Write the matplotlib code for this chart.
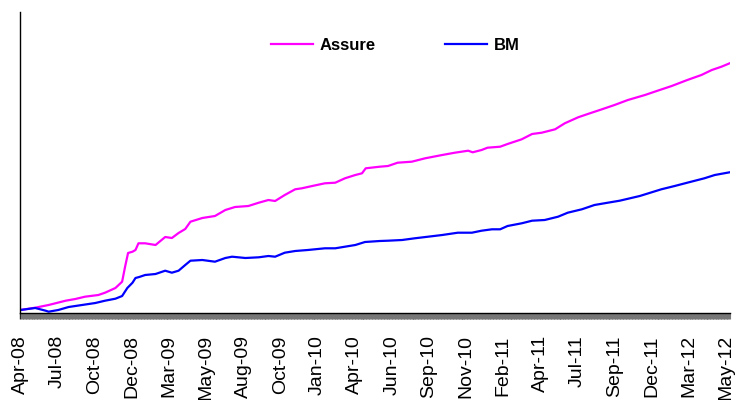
import matplotlib
matplotlib.use('Agg')
import matplotlib.pyplot as plt
import numpy as np

# category axis: one category per trading day
n_days = 956
label_step = 50
major_step = 66
tick_labels = ['Apr-08', 'Jul-08', 'Oct-08', 'Dec-08', 'Mar-09', 'May-09', 'Aug-09',
               'Oct-09', 'Jan-10', 'Apr-10', 'Jun-10', 'Sep-10', 'Nov-10', 'Feb-11',
               'Apr-11', 'Jul-11', 'Sep-11', 'Dec-11', 'Mar-12', 'May-12']

# series (day index, value)
assure_idx = [0, 20, 38, 61, 74, 87, 105, 114, 128, 137, 141, 145, 151, 155, 159, 168,
              182, 195, 204, 213, 222, 229, 245, 262, 276, 289, 307, 321, 334, 343, 356,
              370, 379, 393, 410, 424, 437, 451, 460, 465, 484, 495, 508, 527, 545, 568,
              585, 603, 609, 621, 629, 646, 656, 675, 689, 702, 720, 733, 751, 764, 783,
              800, 818, 841, 858, 877, 898, 917, 931, 944, 955]
assure_val = [3, 5.3, 8, 12.3, 14, 16.3, 18, 20.3, 25, 31.3, 46.3, 60, 61.3, 63, 69.7, 69.7,
              68, 76, 75, 80, 84, 91.3, 95, 97, 103, 106, 107, 110.3, 113, 112, 118,
              123.7, 124.7, 127, 129.7, 130.3, 134.7, 138, 139.7, 144.7, 146.3, 147, 150.3, 151.3, 154.7, 158,
              160.3, 162.3, 160.7, 163, 165.3, 166.3, 169, 173.7, 179, 180.3, 183.7, 189.7, 195.7, 199, 203.7,
              208, 213, 218, 222.3, 227, 233, 238, 243, 246.3, 249.7]

bm_idx = [0, 20, 34, 38, 51, 65, 83, 101, 114, 128, 137, 144, 151, 155, 160, 168, 182,
          195, 204, 213, 222, 229, 245, 262, 276, 285, 303, 321, 334, 343, 356, 370, 387,
          410, 424, 437, 451, 464, 484, 495, 514, 531, 549, 568, 589, 608, 621, 635, 646,
          656, 675, 689, 706, 724, 737, 756, 773, 791, 807, 834, 863, 881, 898, 921, 935, 955]
bm_val = [3, 5, 2.3, 1.3, 3, 6, 8, 10, 12.3, 14.3, 17, 25, 30.3, 35, 36, 38, 39,
          42.3, 40.3, 42.3, 48, 52.3, 53, 51.3, 55, 56.3, 55, 55.7, 57, 56.3, 60.3, 62, 63,
          64.7, 64.7, 66.3, 68, 71, 72, 72.3, 73, 74.7, 76.3, 78, 80.3, 80.3, 82.3, 83.7, 83.7,
          87, 89.7, 92.3, 93, 96.3, 100.3, 103.7, 108, 110.3, 112.3, 117, 123.7, 127, 130.3, 134.7, 138, 140.7]

plt.rcParams['font.family'] = ['Liberation Sans', 'DejaVu Sans']

fig = plt.figure(figsize=(7.36, 4.0), dpi=100)
ax = fig.add_axes([20 / 736, 1 - 313 / 400, 710 / 736, 301 / 400])

ax.plot(assure_idx, assure_val, color='#FF00FF', lw=1.6, label='Assure')
ax.plot(bm_idx, bm_val, color='#0000FF', lw=1.6, label='BM')

ax.set_xlim(-0.5, n_days - 0.5)
ax.set_ylim(0, 301)
for s in ['top', 'right']:
    ax.spines[s].set_visible(False)
for s in ['left', 'bottom']:
    ax.spines[s].set_linewidth(1.0)
ax.set_yticks([])

ax.set_xticks(np.arange(0, n_days, major_step))
ax.set_xticklabels([])
ax.set_xticks(np.arange(n_days), minor=True)
ax.tick_params(axis='x', which='major', length=4.5, width=1.0, color='#222222', direction='out')
ax.tick_params(axis='x', which='minor', length=4.5, width=0.8, color='#777777', direction='out')

sec = ax.secondary_xaxis('bottom')
sec.set_xticks(np.arange(0, n_days, label_step)[:len(tick_labels)], tick_labels, rotation=90)
sec.tick_params(length=0, pad=16, labelsize=14)
sec.spines['bottom'].set_visible(False)

ax.legend(loc='center left', bbox_to_anchor=(271 / 736, 1 - 45 / 400),
          bbox_transform=fig.transFigure, frameon=False, ncol=2,
          handlelength=2.5, handletextpad=0.4, columnspacing=4.2,
          prop={'weight': 'bold', 'size': 12}, borderpad=0, borderaxespad=0)

fig.savefig('out.png', dpi=100)
